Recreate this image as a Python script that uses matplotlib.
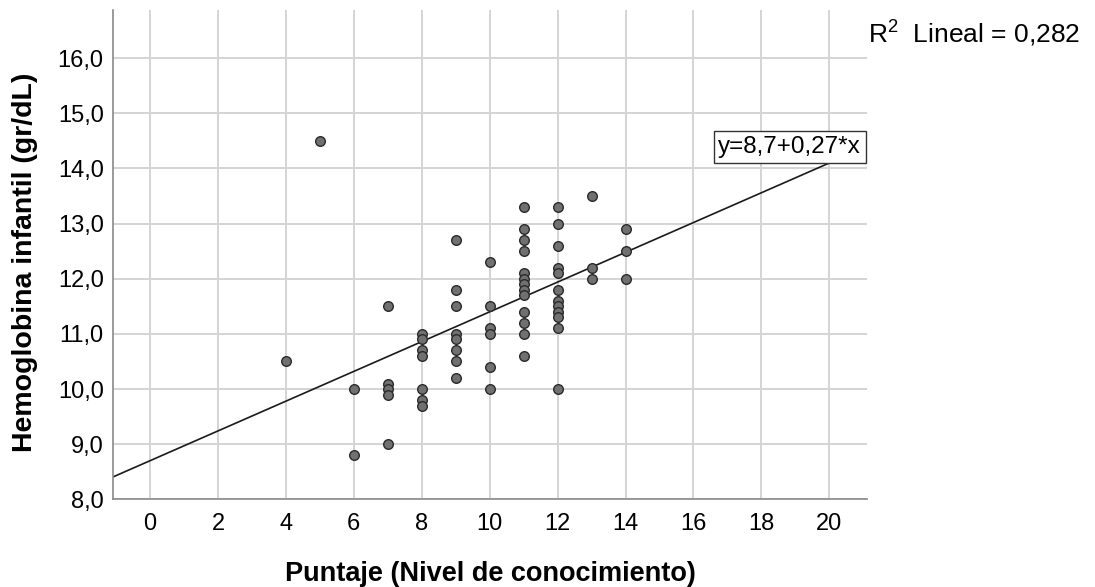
import numpy as np
import matplotlib.pyplot as plt
from matplotlib.ticker import FuncFormatter

plt.rcParams['font.family'] = ['Liberation Sans', 'DejaVu Sans']
plt.rcParams['mathtext.fontset'] = 'custom'
plt.rcParams['mathtext.rm'] = 'Liberation Sans'

# puntaje (x) y hemoglobina (y)
puntaje = [4, 5,
           6, 6,
           7, 7, 7, 7, 7,
           8, 8, 8, 8, 8, 8, 8,
           9, 9, 9, 9, 9, 9, 9, 9,
           10, 10, 10, 10, 10, 10,
           11, 11, 11, 11, 11, 11, 11, 11, 11, 11, 11, 11, 11,
           12, 12, 12, 12, 12, 12, 12, 12, 12, 12, 12, 12,
           13, 13, 13,
           14, 14, 14]
hemoglobina = [10.5, 14.5,
               10.0, 8.8,
               11.5, 10.1, 10.0, 9.9, 9.0,
               11.0, 10.9, 10.7, 10.6, 10.0, 9.8, 9.7,
               12.7, 11.8, 11.5, 11.0, 10.9, 10.7, 10.5, 10.2,
               12.3, 11.5, 11.1, 11.0, 10.4, 10.0,
               13.3, 12.9, 12.7, 12.5, 12.1, 12.0, 11.9, 11.8, 11.7, 11.4, 11.2, 11.0, 10.6,
               13.3, 13.0, 12.6, 12.2, 12.1, 11.8, 11.6, 11.5, 11.4, 11.3, 11.1, 10.0,
               13.5, 12.2, 12.0,
               12.9, 12.5, 12.0]

intercepto = 8.7
pendiente = 0.27
r2 = 0.282

x_ticks = list(range(0, 21, 2))
y_ticks = list(range(8, 17))

fig = plt.figure(figsize=(10.95, 5.87), dpi=100)
ax = fig.add_axes([0.1029, 0.1494, 0.6886, 0.8336])

xmin, xmax = -1.1, 21.1
ymin, ymax = 8.0, 16.875

ax.set_xlim(xmin, xmax)
ax.set_ylim(ymin, ymax)
ax.set_xticks(x_ticks)
ax.set_yticks(y_ticks)
ax.yaxis.set_major_formatter(FuncFormatter(lambda v, p: f'{v:.1f}'.replace('.', ',')))
ax.grid(True, color='#d4d4d4', linewidth=1.4)
ax.set_axisbelow(True)
ax.tick_params(length=0, labelsize=17, colors='black')
ax.tick_params(axis='x', pad=10)
ax.tick_params(axis='y', pad=6.5)

for s in ['top', 'right']:
    ax.spines[s].set_visible(False)
for s in ['left', 'bottom']:
    ax.spines[s].set_color('#8a8a8a')
    ax.spines[s].set_linewidth(1.2)

# recta de ajuste
xl = np.array([xmin, 20.2])
ax.plot(xl, intercepto + pendiente * xl, color='#1a1a1a', linewidth=1.2, zorder=2)

ax.scatter(puntaje, hemoglobina, s=48, facecolor='#707070', edgecolor='#2a2a2a',
           linewidth=1.0, zorder=3)

eq = 'y=' + f'{intercepto}'.replace('.', ',') + '+' + f'{pendiente}'.replace('.', ',') + '*x'
ax.annotate(eq, xy=(xmax, 14.09), xytext=(-4, 4), textcoords='offset points',
            ha='right', va='bottom', fontsize=17.5, zorder=4,
            bbox=dict(boxstyle='square,pad=0.2', facecolor='white',
                      edgecolor='#333333', linewidth=1.0))

fig.text(0.7925, 0.944, 'R$^2$  Lineal = ' + f'{r2}'.replace('.', ','),
         fontsize=19, ha='left', va='center')

ax.set_ylabel('Hemoglobina infantil (gr/dL)', fontsize=20.5, fontweight='bold')
ax.yaxis.set_label_coords(-0.099, 0.485)
ax.set_xlabel('Puntaje (Nivel de conocimiento)', fontsize=19.5, fontweight='bold')
ax.xaxis.set_label_coords(0.501, -0.126)

fig.savefig('out.png', dpi=100)
